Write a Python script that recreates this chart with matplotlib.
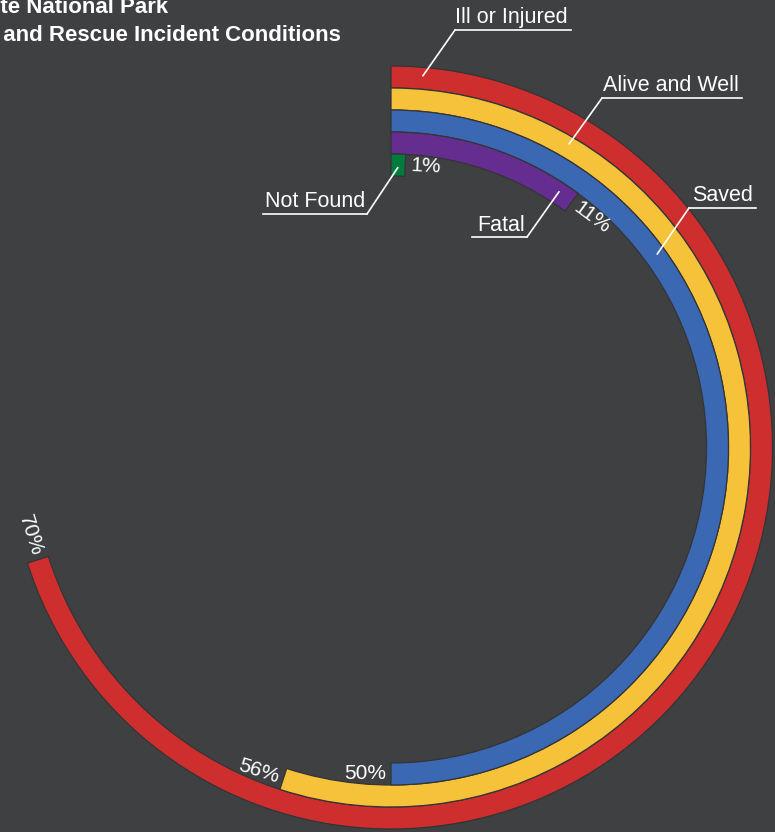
import numpy as np
import matplotlib
matplotlib.use("Agg")
import matplotlib.pyplot as plt
from matplotlib.lines import Line2D

W, H = 775, 832
BG = "#3f4042"

# data (outer ring first)
categories = ["Ill or Injured", "Alive and Well", "Saved", "Fatal", "Not Found"]
arc_pct = [70.1, 55.0, 50.0, 10.1, 0.8]          # arc length as drawn
pct_labels = ["70%", "56%", "50%", "11%", "1%"]   # printed labels
colors = ["#cf2e2e", "#f6c23a", "#3a68b2", "#662d91", "#007a3d"]

ring_r = [370.5, 348.5, 326.5, 304.5, 282.5]
ring_h = 22

# label layout in image pixels: text left x, baseline y, underline x0, x1, y,
# leader start x on underline, leader end (angle deg, radius)
label_pos = [
    (455, 23, 455, 571, 30, 455, 4.9, 373),
    (603, 91, 602, 742, 98, 602, 30.4, 352),
    (692, 201, 689, 756, 208, 689, 54.0, 329),
    (477, 231, 472, 527, 237, 527, 33.3, 306),
    (265, 207, 263, 367, 214, 367, 1.4, 280),
]

plt.rcParams["font.family"] = ["Liberation Sans", "DejaVu Sans"]

fig = plt.figure(figsize=(W / 100, H / 100), dpi=100, facecolor=BG)

# polar axes: centre at (391, 447.5) image px, 1 data unit = 1 px
cx, cy, R = 391, 447.5, 400
ax = fig.add_axes([(cx - R) / W, (H - cy - R) / H, 2 * R / W, 2 * R / H],
                  projection="polar")
ax.set_theta_zero_location("N")
ax.set_theta_direction(-1)
ax.set_ylim(0, R)
ax.axis("off")

for r, p, c in zip(ring_r, arc_pct, colors):
    ax.bar(0, ring_h, width=np.deg2rad(p * 3.6), bottom=r - ring_h / 2,
           align="edge", color=c, edgecolor="#343436", linewidth=0.9)

# percentage labels just past the end of each arc
for r, p, lab in zip(ring_r, arc_pct, pct_labels):
    th = p * 3.6
    th_t = np.deg2rad(th) + 5.0 / r
    if 90 < th < 270:
        rot, ha = 180 - th, "right"
    else:
        rot, ha = -th, "left"
    ax.text(th_t, r, lab, rotation=rot, rotation_mode="anchor", ha=ha,
            va="center", fontsize=15, color="white")


def fx(x):
    return x / W


def fy(y):
    return 1 - y / H


for lab, (tx, ty, ux0, ux1, uy, lx, la, lr) in zip(categories, label_pos):
    fig.text(fx(tx), fy(ty), lab, ha="left", va="baseline", fontsize=15.5,
             color="white")
    fig.add_artist(Line2D([fx(ux0), fx(ux1)], [fy(uy), fy(uy)],
                          transform=fig.transFigure, color="white", lw=1.2))
    ax.annotate("", xy=(np.deg2rad(la), lr), xycoords="data",
                xytext=(lx, H - uy), textcoords="figure pixels",
                arrowprops=dict(arrowstyle="-", color="white", lw=1.2,
                                shrinkA=0, shrinkB=0))

# title, partly cut off on the left as in the reference
fig.text(fx(168), fy(13.3), "Yosemite National Park", ha="right",
         va="baseline", fontsize=16, fontweight="bold", color="white")
fig.text(fx(341), fy(40.7), "Search and Rescue Incident Conditions",
         ha="right", va="baseline", fontsize=16, fontweight="bold",
         color="white")

fig.savefig("out.png", dpi=100, facecolor=BG)
